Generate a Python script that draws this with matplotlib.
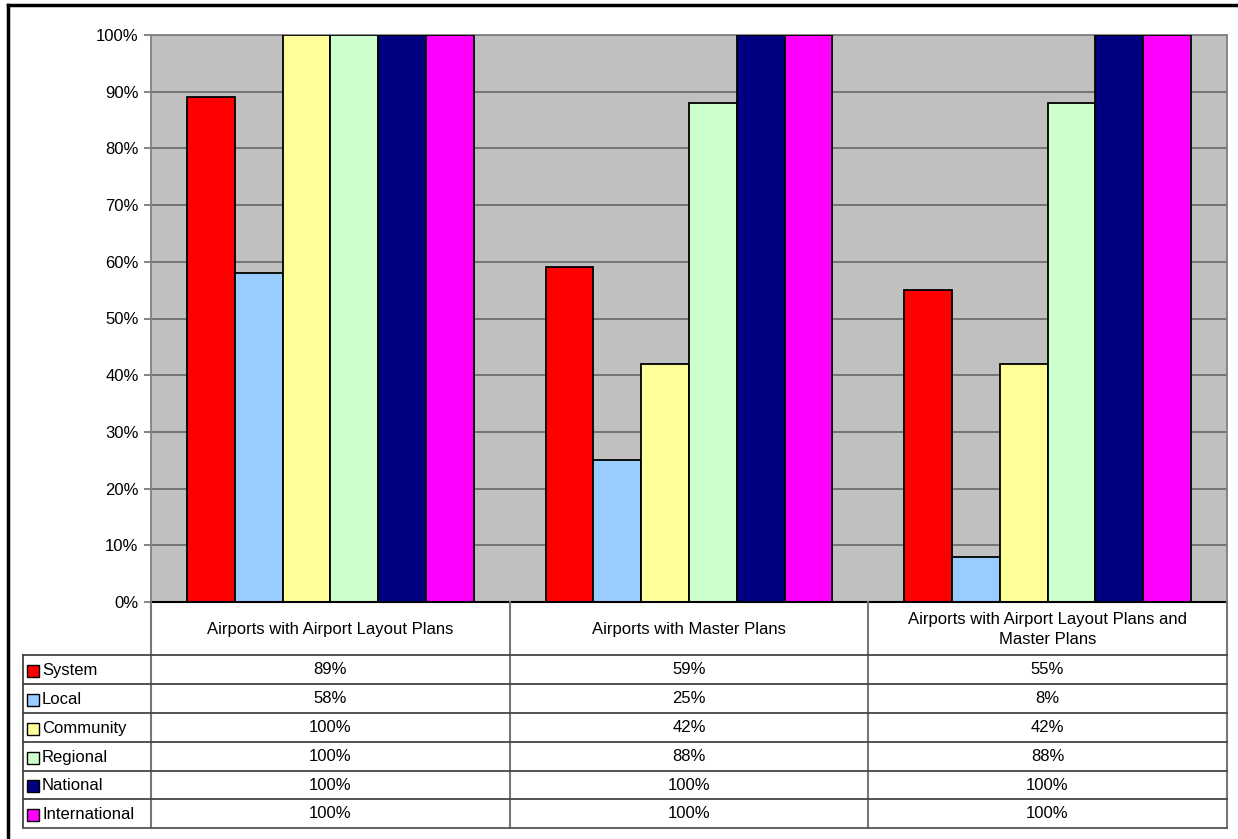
import numpy as np
import matplotlib
matplotlib.use('Agg')
import matplotlib.pyplot as plt
from matplotlib.lines import Line2D
from matplotlib.patches import Rectangle
from matplotlib.ticker import PercentFormatter

plt.rcParams['font.family'] = ['Liberation Sans', 'DejaVu Sans']

# datos del grafico
categorias = ['Airports with Airport Layout Plans',
              'Airports with Master Plans',
              'Airports with Airport Layout Plans and\nMaster Plans']
series = ['System', 'Local', 'Community', 'Regional', 'National', 'International']
colores = ['#FF0000', '#99CCFF', '#FFFF99', '#CCFFCC', '#000080', '#FF00FF']
system = [89, 59, 55]
local = [58, 25, 8]
community = [100, 42, 42]
regional = [100, 88, 88]
national = [100, 100, 100]
international = [100, 100, 100]
valores = [system, local, community, regional, national, international]

W, H = 1238, 839
fig = plt.figure(figsize=(W / 100, H / 100), dpi=100)
fs = 12

def fx(px):
    return px / W

def fy(py):
    return 1 - py / H

# area del grafico en pixeles
x0, x1 = 151, 1227
y_top, y_bot = 35, 602
ax = fig.add_axes([fx(x0), fy(y_bot), fx(x1 - x0), (y_bot - y_top) / H])
ax.set_facecolor('#C0C0C0')

ancho = 1 / 7.5
n = len(series)
for j in range(n):
    pos = np.arange(len(categorias)) + 0.5 + (j - (n - 1) / 2) * ancho
    ax.bar(pos, valores[j], width=ancho, color=colores[j],
           edgecolor='black', linewidth=1.3, zorder=3)

ax.set_xlim(0, len(categorias))
ax.set_ylim(0, 100)
ax.set_yticks(np.arange(0, 101, 10))
ax.yaxis.set_major_formatter(PercentFormatter(decimals=0))
ax.set_xticks([])
ax.grid(axis='y', color='#666666', linewidth=1.2, zorder=1)
ax.tick_params(axis='y', direction='out', length=5, width=1.2,
               color='#707070', labelsize=fs, pad=4)
for s in ['left', 'right', 'top']:
    ax.spines[s].set_color('#808080')
    ax.spines[s].set_linewidth(1.3)
ax.spines['bottom'].set_color('black')
ax.spines['bottom'].set_linewidth(1.5)
ax.spines['bottom'].set_zorder(4)

# tabla de datos debajo del grafico
col_x = [151, 510, 868, 1227]
lbl_x = 23
head_bot = 655
filas = [655, 684, 713, 742, 771, 799, 828]
gris = '#777777'
oscuro = '#444444'

def linea(xa, ya, xb, yb, c, lw=1.3):
    fig.add_artist(Line2D([fx(xa), fx(xb)], [fy(ya), fy(yb)], color=c, lw=lw))

for cx in col_x:
    linea(cx, y_bot, cx, filas[-1], gris, 1.5)
linea(lbl_x, filas[0], lbl_x, filas[-1], oscuro, 1.3)
for k, ry in enumerate(filas):
    linea(lbl_x, ry, col_x[-1], ry, oscuro if k < len(filas) - 1 else '#555555', 1.3)

for i, cat in enumerate(categorias):
    xc = (col_x[i] + col_x[i + 1]) / 2
    fig.text(fx(xc), fy((y_bot + head_bot) / 2 + 1), cat, ha='center', va='center',
             fontsize=fs, linespacing=1.45)

for j, nombre in enumerate(series):
    yc = (filas[j] + filas[j + 1]) / 2
    fig.add_artist(Rectangle((fx(27), fy(yc + 7)), fx(12), 12 / H,
                             facecolor=colores[j], edgecolor='black', lw=1.0))
    fig.text(fx(42), fy(yc + 1), nombre, ha='left', va='center', fontsize=fs)
    for i in range(len(categorias)):
        xc = (col_x[i] + col_x[i + 1]) / 2
        fig.text(fx(xc), fy(yc), f'{valores[j][i]}%', ha='center', va='center',
                 fontsize=fs)

# marco exterior
linea(8, 5, 8, H + 5, 'black', 2.5)
linea(8, 5, W + 5, 5, 'black', 2.5)

fig.savefig('out.png', dpi=100, facecolor='white')
